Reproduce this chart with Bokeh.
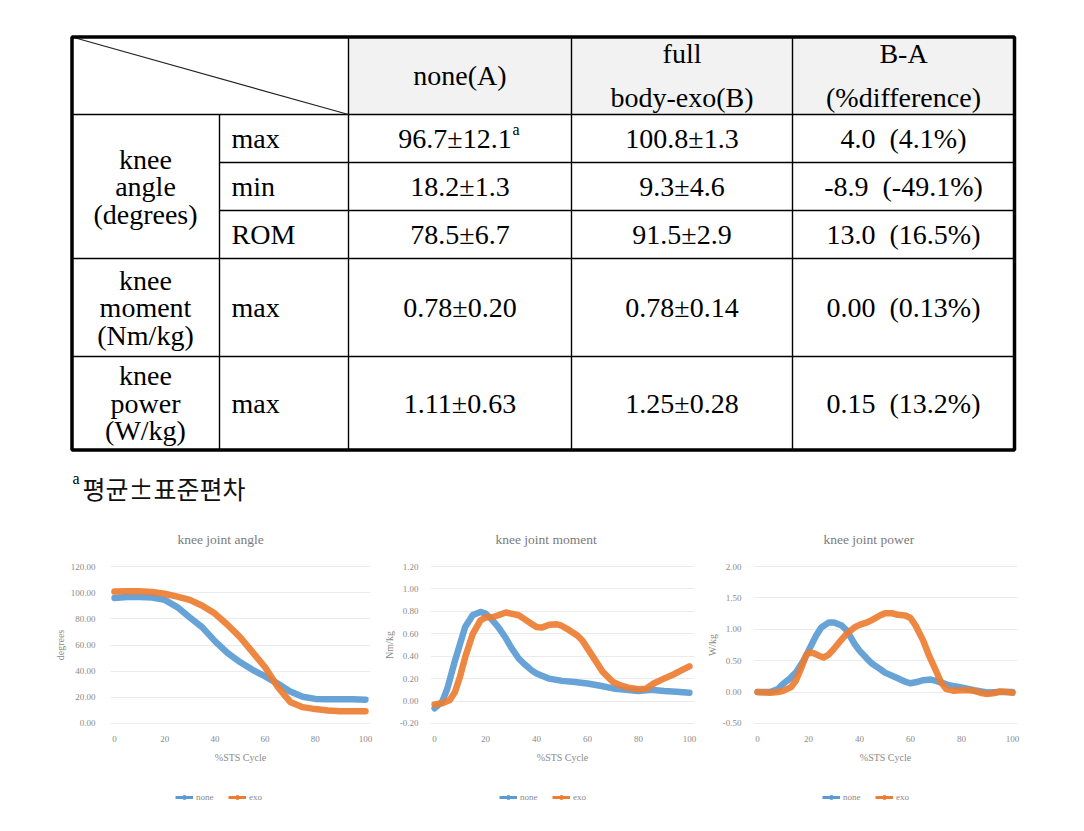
from bokeh.plotting import figure
from bokeh.layouts import column, row
from bokeh.models import Range1d, FixedTicker, NumeralTickFormatter, Legend, LegendItem, ColumnDataSource
from bokeh.core.properties import value
from bokeh.embed import file_html
from bokeh.resources import INLINE

# ---------------- table data ----------------
col_headers = [["none(A)"], ["full", "body-exo(B)"], ["B-A", "(%difference)"]]
group_labels = [["knee", "angle", "(degrees)"], ["knee", "moment", "(Nm/kg)"], ["knee", "power", "(W/kg)"]]
measures = ["max", "min", "ROM", "max", "max"]
vals_A = ["96.7\u00b112.1", "18.2\u00b11.3", "78.5\u00b16.7", "0.78\u00b10.20", "1.11\u00b10.63"]
vals_B = ["100.8\u00b11.3", "9.3\u00b14.6", "91.5\u00b12.9", "0.78\u00b10.14", "1.25\u00b10.28"]
vals_diff = ["4.0\u00a0 (4.1%)", "-8.9\u00a0 (-49.1%)", "13.0\u00a0 (16.5%)", "0.00\u00a0 (0.13%)", "0.15\u00a0 (13.2%)"]
note_mark = "a"
footnote = "\ud3c9\uade0\u00b1\ud45c\uc900\ud3b8\ucc28"

# ---------------- chart data ----------------
angle_none_x = [0, 5, 10, 15, 20, 25, 30, 35, 40, 45, 50, 55, 60, 65, 70, 75, 80, 85, 90, 95, 100]
angle_none_y = [96.0, 96.7, 96.7, 96.3, 94.5, 89.0, 81.0, 73.5, 63.0, 54.0, 47.0, 41.0, 36.0, 30.5, 24.5, 20.5, 18.8, 18.5, 18.5, 18.6, 18.2]
angle_exo_x = [0, 5, 10, 15, 20, 25, 30, 35, 40, 45, 50, 55, 60, 65, 70, 75, 80, 85, 90, 95, 100]
angle_exo_y = [100.8, 101.0, 101.0, 100.5, 99.2, 97.0, 94.5, 90.0, 84.0, 75.5, 66.0, 54.5, 43.0, 28.0, 16.5, 12.5, 11.0, 10.0, 9.3, 9.3, 9.3]

moment_none_x = [0, 3, 5, 8, 10, 12, 15, 18, 20, 22, 25, 28, 30, 33, 35, 38, 40, 45, 50, 55, 60, 65, 70, 75, 80, 85, 90, 95, 100]
moment_none_y = [-0.065, -0.005, 0.11, 0.36, 0.51, 0.66, 0.767, 0.795, 0.78, 0.74, 0.66, 0.56, 0.48, 0.38, 0.335, 0.276, 0.246, 0.20, 0.18, 0.17, 0.157, 0.137, 0.113, 0.10, 0.09, 0.10, 0.09, 0.083, 0.075]
moment_exo_x = [0, 3, 6, 8, 10, 12, 15, 18, 20, 23, 25, 28, 30, 33, 35, 38, 40, 42, 45, 48, 50, 53, 56, 58, 60, 63, 66, 70, 73, 76, 80, 83, 86, 90, 94, 97, 100]
moment_exo_y = [-0.03, -0.02, 0.01, 0.08, 0.22, 0.39, 0.60, 0.72, 0.745, 0.75, 0.765, 0.79, 0.78, 0.765, 0.735, 0.69, 0.66, 0.655, 0.68, 0.685, 0.67, 0.63, 0.585, 0.54, 0.47, 0.365, 0.26, 0.17, 0.14, 0.12, 0.105, 0.11, 0.157, 0.20, 0.24, 0.276, 0.31]

power_none_x = [0, 5, 8, 10, 13, 15, 18, 20, 23, 25, 28, 30, 33, 35, 38, 40, 43, 45, 48, 50, 55, 58, 60, 63, 65, 68, 70, 73, 75, 80, 85, 90, 95, 100]
power_none_y = [0.0, 0.0, 0.05, 0.13, 0.23, 0.31, 0.50, 0.66, 0.90, 1.03, 1.11, 1.11, 1.06, 0.98, 0.77, 0.66, 0.53, 0.45, 0.37, 0.31, 0.22, 0.165, 0.14, 0.165, 0.19, 0.20, 0.18, 0.14, 0.11, 0.075, 0.03, -0.005, 0.0, 0.0]
power_exo_x = [0, 5, 8, 10, 13, 15, 17, 19, 20, 22, 24, 26, 28, 30, 32, 35, 38, 40, 43, 45, 48, 50, 53, 55, 58, 60, 62, 65, 67, 70, 72, 74, 77, 80, 83, 85, 88, 90, 93, 95, 98, 100]
power_exo_y = [0.0, -0.01, 0.0, 0.02, 0.075, 0.18, 0.37, 0.58, 0.63, 0.62, 0.58, 0.55, 0.60, 0.69, 0.79, 0.93, 1.03, 1.07, 1.11, 1.15, 1.22, 1.255, 1.255, 1.23, 1.22, 1.18, 1.06, 0.82, 0.61, 0.34, 0.155, 0.05, 0.02, 0.03, 0.03, 0.02, -0.015, -0.03, -0.015, 0.01, 0.0, -0.01]

series_names = ["none", "exo"]
series_colors = ["#5b9bd5", "#ed7d31"]
x_ticks = [0, 20, 40, 60, 80, 100]

SERIF = value("Liberation Serif")
GRAY = "#8a8a8a"

# ---------------- table figure ----------------
t = figure(width=1084, height=505, x_range=Range1d(0, 1084), y_range=Range1d(505, 0),
           x_axis_type=None, y_axis_type=None, output_backend="svg", toolbar_location=None,
           min_border=0, outline_line_color=None)
t.grid.visible = False

col_x = [71.5, 219, 348, 571, 792, 1014]
row_y = [36.5, 114, 162, 210, 258, 356, 449.5]

t.quad(left=[348], right=[1014], top=[37], bottom=[114], fill_color="#f2f2f2", line_color=None)
hx0 = [col_x[0], col_x[1], col_x[1], col_x[0], col_x[0]]
hy = [row_y[1], row_y[2], row_y[3], row_y[4], row_y[5]]
t.segment(x0=hx0, y0=hy, x1=[col_x[5]] * 5, y1=hy, line_color="black", line_width=1.4)
vx = [col_x[1], col_x[2], col_x[3], col_x[4]]
vy0 = [row_y[1], row_y[0], row_y[0], row_y[0]]
t.segment(x0=vx, y0=vy0, x1=vx, y1=[row_y[6]] * 4, line_color="black", line_width=1.4)
t.segment(x0=[col_x[0]], y0=[row_y[0]], x1=[col_x[2]], y1=[row_y[1]], line_color="#222222", line_width=1.2)
t.quad(left=[col_x[0]], right=[col_x[5]], top=[row_y[0]], bottom=[row_y[6]], fill_color=None,
       line_color="black", line_width=3.5)

tx, ty, tt, ta = [], [], [], []
col_centers = [(col_x[i] + col_x[i + 1]) / 2 for i in range(2, 5)]
hdr_c = (row_y[0] + row_y[1]) / 2
for cx, lines in zip(col_centers, col_headers):
    n = len(lines)
    for k, s_ in enumerate(lines):
        tx.append(cx); ty.append(hdr_c + (k - (n - 1) / 2) * 44); tt.append(s_); ta.append("center")
row_centers = [(row_y[i] + row_y[i + 1]) / 2 for i in range(1, 6)]
group_centers = [(row_y[1] + row_y[4]) / 2, row_centers[3], row_centers[4]]
for gc, lines in zip(group_centers, group_labels):
    for k, s_ in enumerate(lines):
        tx.append(145); ty.append(gc + (k - 1) * 27.5); tt.append(s_); ta.append("center")
for i in range(5):
    tx.append(231); ty.append(row_centers[i]); tt.append(measures[i]); ta.append("left")
    tx.append(col_centers[0] - (5 if i == 0 else 0)); ty.append(row_centers[i]); tt.append(vals_A[i]); ta.append("center")
    tx.append(col_centers[1]); ty.append(row_centers[i]); tt.append(vals_B[i]); ta.append("center")
    tx.append(col_centers[2]); ty.append(row_centers[i]); tt.append(vals_diff[i]); ta.append("center")
src = ColumnDataSource(dict(x=tx, y=ty, text=tt, align=ta))
t.text(x="x", y="y", text="text", text_align="align", source=src, text_baseline="middle",
       text_font=SERIF, text_font_size="28px", text_color="black")
t.text(x=[512, 72], y=[129, 478], text=[note_mark, note_mark], text_baseline="middle",
       text_font=SERIF, text_font_size="16px", text_color="black")
t.text(x=[82], y=[487], text=[footnote], text_baseline="middle",
       text_font=value("Noto Sans CJK KR"), text_font_size="25px", text_color="#111111")


# ---------------- charts ----------------
def make_chart(title, ylabel, xs, ys, yr, yticks, width, left, right, title_offset, standoff):
    p = figure(width=width, height=270, x_range=Range1d(-1.6, 102.0), y_range=Range1d(*yr),
               output_backend="svg", toolbar_location=None, min_border_left=left,
               min_border_right=right, min_border_top=57, min_border_bottom=48,
               outline_line_color=None)
    p.title.text = title
    p.title.align = "left"
    p.title.offset = title_offset
    p.title.standoff = 32
    p.title.text_font = "Liberation Serif"
    p.title.text_font_size = "13.5px"
    p.title.text_font_style = "normal"
    p.title.text_color = "#7a7a7a"
    for ax in (p.xaxis[0], p.yaxis[0]):
        ax.axis_line_color = None
        ax.major_tick_line_color = None
        ax.minor_tick_line_color = None
        ax.major_label_text_font = "Liberation Serif"
        ax.major_label_text_font_size = "9px"
        ax.major_label_text_color = GRAY
        ax.axis_label_text_font = "Liberation Serif"
        ax.axis_label_text_font_size = "10px"
        ax.axis_label_text_font_style = "normal"
        ax.axis_label_text_color = GRAY
    p.xaxis[0].ticker = FixedTicker(ticks=x_ticks)
    p.xaxis[0].axis_label = "%STS Cycle"
    p.xaxis[0].major_label_standoff = 2
    p.xaxis[0].axis_label_standoff = 7
    p.yaxis[0].ticker = FixedTicker(ticks=yticks)
    p.yaxis[0].formatter = NumeralTickFormatter(format="0.00")
    p.yaxis[0].axis_label = ylabel
    p.yaxis[0].major_label_standoff = standoff
    p.yaxis[0].axis_label_standoff = 2
    p.xgrid.visible = False
    p.ygrid.grid_line_color = "#ebebeb"
    for x, y, col in zip(xs, ys, series_colors):
        p.line(x, y, line_color=col, line_width=6.5, line_join="round", line_cap="round", line_alpha=0.92)
    return p


chart_specs = [
    ("knee joint angle", "degrees", [angle_none_x, angle_exo_x], [angle_none_y, angle_exo_y],
     (-3.06, 123.06), [0, 20, 40, 60, 80, 100, 120], 380, 110, 10, 67, 9),
    ("knee joint moment", "Nm/kg", [moment_none_x, moment_exo_x], [moment_none_y, moment_exo_y],
     (-0.2357, 1.2357), [-0.2, 0, 0.2, 0.4, 0.6, 0.8, 1.0, 1.2], 320, 49, 6, 65, 6),
    ("knee joint power", "W/kg", [power_none_x, power_exo_x], [power_none_y, power_exo_y],
     (-0.5637, 2.0637), [-0.5, 0, 0.5, 1.0, 1.5, 2.0], 384, 53, 67, 70, 6),
]
charts = [make_chart(*spec) for spec in chart_specs]

# ---------------- legend strip (one legend per chart) ----------------
# the strip's ranges sit far from the data, so its series only feed the legends
s = figure(width=1084, height=36, x_range=Range1d(0, 1084), y_range=Range1d(811, 775),
           x_axis_type=None, y_axis_type=None, output_backend="svg", toolbar_location=None,
           min_border=0, outline_line_color=None)
s.grid.visible = False
for spec, leg_left in zip(chart_specs, [175, 499, 822]):
    items = []
    for x, y, name, col in zip(spec[2], spec[3], series_names, series_colors):
        l = s.line(x, y, line_color=col, line_width=3)
        m = s.scatter(x, y, marker="circle", size=6, fill_color=col, line_color=col)
        items.append(LegendItem(label=name, renderers=[l, m]))
    leg = Legend(items=items, orientation="horizontal", location=(leg_left, 9),
                 label_text_font="Liberation Serif", label_text_font_size="9px",
                 label_text_color=GRAY, glyph_width=18, glyph_height=10,
                 label_standoff=3, spacing=12, padding=2, margin=0,
                 border_line_color=None, background_fill_alpha=0)
    s.add_layout(leg, "center")

layout = column(t, row(*charts, spacing=0), s, spacing=0)
open("out.html", "w").write(file_html(layout, INLINE))
